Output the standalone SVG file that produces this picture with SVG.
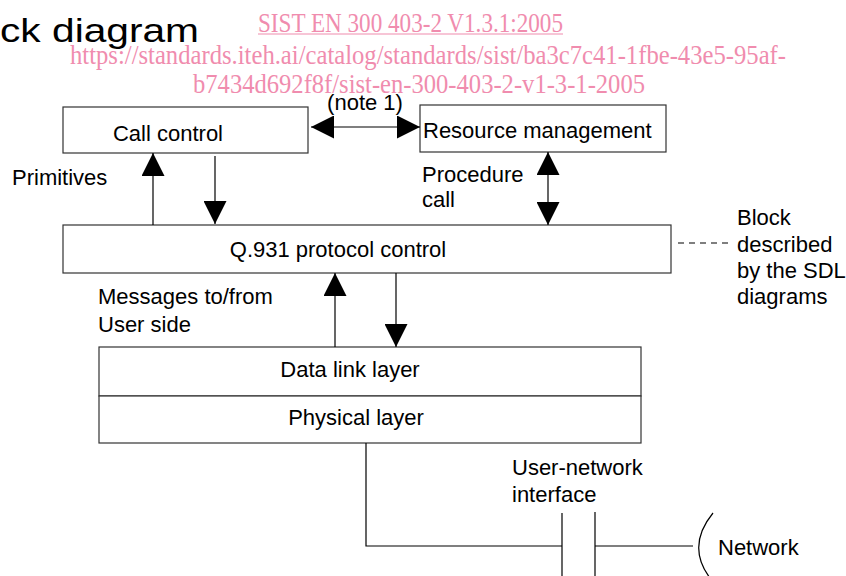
<svg xmlns="http://www.w3.org/2000/svg" width="846" height="576" viewBox="0 0 846 576">
<defs>
<style>
.t{font-family:"Liberation Sans",Arial,sans-serif;font-size:22px;fill:#000}
.wm{font-family:"Liberation Serif","Times New Roman",serif;font-size:28px;fill:#f08cae}
.box{fill:#fff;stroke:#333;stroke-width:1.2}
.ln{fill:none;stroke:#000;stroke-width:1.2}
</style>
<marker id="ah" viewBox="0 0 23 23" refX="23" refY="11.5" markerWidth="23" markerHeight="23" markerUnits="userSpaceOnUse" orient="auto-start-reverse">
<path d="M0,0 L23,11.5 L0,23 z" fill="#000"/>
</marker>
</defs>
<rect width="846" height="576" fill="#fff"/>
<g id="title"><text class="t" x="0" y="42" style="font-size:33px" textLength="199" lengthAdjust="spacingAndGlyphs">ck diagram</text></g>
<g id="watermark">
<text class="wm" x="258" y="32" textLength="305" lengthAdjust="spacingAndGlyphs">SIST EN 300 403-2 V1.3.1:2005</text>
<line x1="258" y1="34" x2="563" y2="34" stroke="#f08cae" stroke-width="1.2"/>
<text class="wm" x="70" y="64" textLength="716" lengthAdjust="spacingAndGlyphs">https://standards.iteh.ai/catalog/standards/sist/ba3c7c41-1fbe-43e5-95af-</text>
<text class="wm" x="193" y="93" textLength="452" lengthAdjust="spacingAndGlyphs">b7434d692f8f/sist-en-300-403-2-v1-3-1-2005</text>
</g>
<g id="call-control"><rect class="box" x="63" y="107" width="245" height="46"/><text class="t" x="168" y="141" text-anchor="middle">Call control</text></g>
<g id="resource-management"><rect class="box" x="420" y="105" width="246" height="47"/><text class="t" x="423" y="138">Resource management</text></g>
<g id="q931"><rect class="box" x="63" y="225" width="608" height="48"/><text class="t" x="338" y="257" text-anchor="middle">Q.931 protocol control</text></g>
<g id="data-link"><rect class="box" x="99" y="347" width="542" height="49"/><text class="t" x="350" y="377" text-anchor="middle">Data link layer</text></g>
<g id="physical"><rect class="box" x="99" y="396" width="542" height="47"/><text class="t" x="356" y="425" text-anchor="middle">Physical layer</text></g>
<g id="network"><path class="ln" d="M713,513 Q686,546 710,578"/><text class="t" x="718" y="555">Network</text></g>
<g id="connectors">
<line class="ln" x1="311" y1="127" x2="420" y2="127" marker-start="url(#ah)" marker-end="url(#ah)"/>
<line class="ln" x1="153" y1="225" x2="153" y2="153" marker-end="url(#ah)"/>
<line class="ln" x1="215" y1="156" x2="215" y2="224" marker-end="url(#ah)"/>
<line class="ln" x1="548" y1="152" x2="548" y2="225" marker-start="url(#ah)" marker-end="url(#ah)"/>
<line class="ln" x1="335" y1="347" x2="335" y2="273" marker-end="url(#ah)"/>
<line class="ln" x1="396" y1="273" x2="396" y2="347" marker-end="url(#ah)"/>
<line class="ln" x1="678" y1="243" x2="728" y2="243" stroke-dasharray="6,5"/>
<polyline class="ln" points="366,443 366,546 562,546"/>
<line class="ln" x1="562" y1="513" x2="562" y2="576"/>
<line class="ln" x1="595" y1="512" x2="595" y2="576"/>
<line class="ln" x1="595" y1="546" x2="693" y2="546"/>
</g>
<g id="labels">
<text class="t" x="365" y="110" text-anchor="middle">(note 1)</text>
<text class="t" x="12" y="185">Primitives</text>
<text class="t" x="422" y="182">Procedure</text>
<text class="t" x="422" y="207">call</text>
<text class="t" x="737" y="225">Block</text>
<text class="t" x="737" y="252">described</text>
<text class="t" x="737" y="278">by the SDL</text>
<text class="t" x="737" y="304">diagrams</text>
<text class="t" x="98" y="304">Messages to/from</text>
<text class="t" x="98" y="332">User side</text>
<text class="t" x="512" y="475">User-network</text>
<text class="t" x="512" y="502">interface</text>
</g>
</svg>
